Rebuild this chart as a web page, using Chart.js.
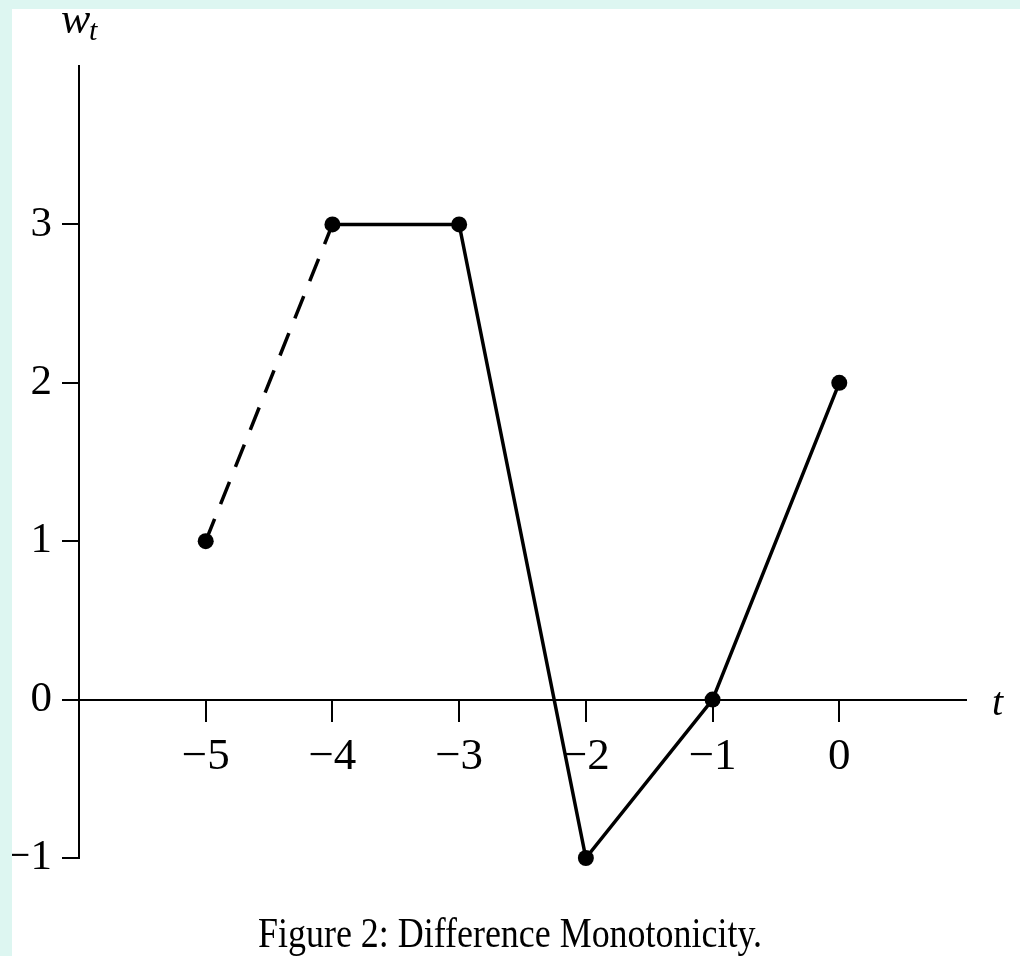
<!DOCTYPE html>
<html>
<head>
<meta charset="utf-8">
<script src="https://cdn.jsdelivr.net/npm/chart.js@4.4.0/dist/chart.umd.min.js"></script>
<style>
  html, body { margin: 0; padding: 0; background: #ddf6f1; }
  #wrap { position: absolute; left: 12px; top: 9px; width: 1008px; height: 947px; background: #fff; }
</style>
</head>
<body>
<div id="wrap"><canvas id="chart" width="1008" height="947"></canvas></div>
<script>
// data
const tValues = [-5, -4, -3, -2, -1, 0];
const wValues = [1, 3, 3, -1, 0, 2];
const xTicks = [-5, -4, -3, -2, -1, 0];
const yTicks = [-1, 0, 1, 2, 3];
const captionText = "Figure 2: Difference Monotonicity.";

const serif = '"Liberation Serif", "DejaVu Serif", serif';
const fmt = (v) => (v < 0 ? "\u2212" + Math.abs(v) : String(v));

// axis names + caption
const textPlugin = {
  id: "axisText",
  afterDraw(chart) {
    const { ctx, chartArea } = chart;
    const y0 = chart.scales.y.getPixelForValue(0);
    ctx.save();
    ctx.fillStyle = "#000";
    ctx.textBaseline = "alphabetic";
    ctx.textAlign = "left";
    ctx.font = "italic 44px " + serif;
    ctx.fillText("w", chartArea.left - 18, 24);
    ctx.font = "italic 30px " + serif;
    ctx.fillText("t", chartArea.left + 10, 31);
    ctx.font = "italic 40px " + serif;
    ctx.fillText("t", chartArea.right + 26, y0 + 15);
    // caption, squeezed a bit to match the original width
    ctx.font = "42px " + serif;
    const w = ctx.measureText(captionText).width;
    ctx.translate(498, 938);
    ctx.scale(504 / w, 1);
    ctx.textAlign = "center";
    ctx.fillText(captionText, 0, 0);
    ctx.restore();
  },
};

new Chart(document.getElementById("chart"), {
  type: "line",
  data: {
    datasets: [
      {
        data: tValues.map((t, i) => ({ x: t, y: wValues[i] })),
        borderColor: "#000",
        backgroundColor: "#000",
        borderWidth: 3.5,
        pointRadius: 8,
        pointHoverRadius: 8,
        pointBorderWidth: 0,
        tension: 0,
        clip: false,
        segment: {
          borderDash: (c) => (c.p0DataIndex === 0 ? [24, 16] : undefined),
        },
      },
    ],
  },
  options: {
    responsive: false,
    animation: false,
    layout: { padding: { top: 57, right: 54, left: 0, bottom: 98 } },
    plugins: { legend: { display: false }, tooltip: { enabled: false } },
    scales: {
      x: {
        type: "linear",
        min: -6,
        max: 1,
        position: { y: 0 },
        afterBuildTicks: (s) => { s.ticks = xTicks.map((v) => ({ value: v })); },
        border: { display: true, color: "#000", width: 2 },
        grid: { drawOnChartArea: false, drawTicks: true, tickLength: 21, color: "#000", lineWidth: 2 },
        ticks: { color: "#000", padding: 10, font: { family: serif, size: 45 }, callback: fmt, maxRotation: 0 },
      },
      y: {
        type: "linear",
        min: -1,
        max: 4,
        afterBuildTicks: (s) => { s.ticks = yTicks.map((v) => ({ value: v })); },
        afterFit: (s) => { s.width = 67; },
        border: { display: true, color: "#000", width: 2 },
        grid: { drawOnChartArea: false, drawTicks: true, tickLength: 17, color: "#000", lineWidth: 2 },
        ticks: { color: "#000", padding: 10, font: { family: serif, size: 43 }, callback: fmt },
      },
    },
  },
  plugins: [textPlugin],
});
</script>
</body>
</html>
